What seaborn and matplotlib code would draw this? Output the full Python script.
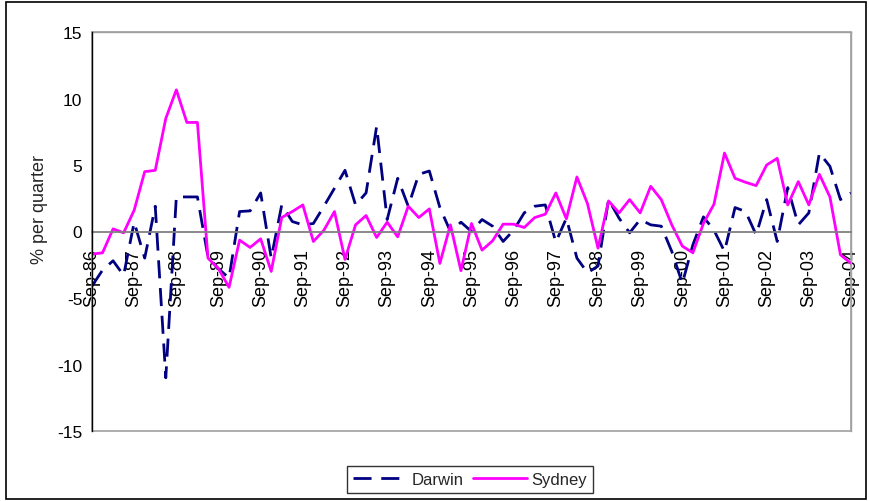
import numpy as np
import pandas as pd
import matplotlib
matplotlib.use("Agg")
import matplotlib.pyplot as plt
from matplotlib.lines import Line2D
from matplotlib.patches import Rectangle
import seaborn as sns

# Quarterly change, Sep-86 to Sep-04 (73 quarters)
darwin = [
    -4.1, -2.9, -2.2, -3.3, 0.7, -2.0, 1.9, -11.0, 2.6, 2.6,
    2.6, -1.9, -2.8, -3.5, 1.5, 1.55, 2.9, -2.0, 2.0, 0.75,
    0.5, 0.6, 1.9, 3.25, 4.6, 2.0, 2.9, 7.9, 0.9, 4.0,
    1.9, 4.3, 4.55, 1.8, 0.0, 0.7, 0.0, 0.9, 0.4, -0.75,
    0.1, 1.4, 1.9, 2.0, -0.8, 1.0, -2.0, -3.1, -2.6, 2.4,
    1.0, -0.1, 0.9, 0.5, 0.4, -1.5, -3.9, -1.0, 1.1, 0.1,
    -1.5, 1.8, 1.5, -0.25, 2.4, -0.75, 3.3, 0.5, 1.4, 5.9,
    4.9, 2.4, 2.9,
]
sydney = [
    -1.7, -1.6, 0.2, -0.1, 1.6, 4.5, 4.6, 8.5, 10.65, 8.2,
    8.2, -2.0, -2.8, -4.2, -0.65, -1.2, -0.55, -3.0, 1.05, 1.5,
    2.0, -0.75, 0.1, 1.5, -2.1, 0.5, 1.2, -0.45, 0.7, -0.4,
    1.9, 1.05, 1.7, -2.4, 0.5, -2.95, 0.6, -1.4, -0.7, 0.55,
    0.55, 0.3, 1.05, 1.3, 2.9, 0.95, 4.1, 2.1, -1.25, 2.3,
    1.4, 2.4, 1.4, 3.4, 2.4, 0.5, -1.1, -1.6, 0.6, 2.05,
    5.9, 4.0, 3.7, 3.45, 5.0, 5.5, 2.0, 3.75, 2.0, 4.3,
    2.6, -1.75, -2.4,
]
year_labels = [
    "Sep-86", "Sep-87", "Sep-88", "Sep-89", "Sep-90", "Sep-91", "Sep-92",
    "Sep-93", "Sep-94", "Sep-95", "Sep-96", "Sep-97", "Sep-98", "Sep-99",
    "Sep-00", "Sep-01", "Sep-02", "Sep-03", "Sep-04",
]
series_names = ["Darwin", "Sydney"]
colors = {"Darwin": "#000080", "Sydney": "#FF00FF"}
darwin_dash = (6.5, 3.5)

quarter = np.arange(len(darwin))
df = pd.DataFrame({"quarter": quarter, "Darwin": darwin, "Sydney": sydney})
long_df = df.melt(id_vars="quarter", var_name="series", value_name="change")

sns.set_style("white")
plt.rcParams["font.family"] = ["Liberation Sans", "DejaVu Sans"]
plt.rcParams["axes.unicode_minus"] = False

W, H = 869, 502
fig = plt.figure(figsize=(W / 100, H / 100), dpi=100)
ax = fig.add_axes([92 / W, 1 - 432 / H, (851 - 92) / W, (432 - 33) / H])

sns.lineplot(
    data=long_df, x="quarter", y="change",
    hue="series", style="series", hue_order=series_names, style_order=series_names,
    palette=colors, dashes={"Darwin": darwin_dash, "Sydney": ""},
    linewidth=2, legend=False, ax=ax,
)

# plot-area frame, left value axis and category axis crossing at zero
for side in ("top", "right"):
    ax.spines[side].set_color("#A0A0A0")
    ax.spines[side].set_linewidth(1)
ax.spines["left"].set_color("black")
ax.spines["left"].set_linewidth(1)
ax.spines["left"].set_zorder(3)
ax.spines["bottom"].set_position(("data", 0))
ax.spines["bottom"].set_color("#808080")
ax.spines["bottom"].set_linewidth(1.3)
ax.add_patch(Rectangle((0, 0), 1, 1, transform=ax.transAxes, fill=False,
                       edgecolor="#A0A0A0", linewidth=1.2, clip_on=False, zorder=1))

ax.set_xlim(0, len(darwin) - 1)
ax.set_ylim(-15, 15)
ax.set_yticks(range(-15, 16, 5))
ax.set_xticks(range(0, len(darwin), 4))
ax.set_xticklabels(year_labels)
ax.set_xlabel("")
ax.set_ylabel("")

ax.tick_params(axis="x", direction="out", length=4, width=1, color="#808080",
               pad=8, labelsize=13, labelcolor="black", labelrotation=90)
ax.tick_params(axis="y", direction="out", length=4, width=1, color="black",
               pad=3, labelsize=12.5, labelcolor="black")

fig.text(40 / W, 1 - 210 / H, "% per quarter", rotation=90,
         ha="center", va="center", fontsize=13)

handles = [
    Line2D([], [], color=colors["Darwin"], lw=2, dashes=darwin_dash),
    Line2D([], [], color=colors["Sydney"], lw=2),
]
leg = fig.legend(
    handles, series_names, loc="center",
    bbox_to_anchor=((349 + 591) / 2 / W, 1 - (464 + 497) / 2 / H),
    ncol=2, frameon=True, fancybox=False, edgecolor="black",
    fontsize=12, handlelength=3.2, handletextpad=0.3, columnspacing=0.6,
    borderpad=0.35, borderaxespad=0,
)
leg.get_frame().set_linewidth(1)

# outer chart border
fig.patches.append(Rectangle((6 / W, 2 / H), 860 / W, 497 / H, transform=fig.transFigure,
                             fill=False, edgecolor="black", linewidth=1.2))

fig.savefig("out.png", dpi=100)
